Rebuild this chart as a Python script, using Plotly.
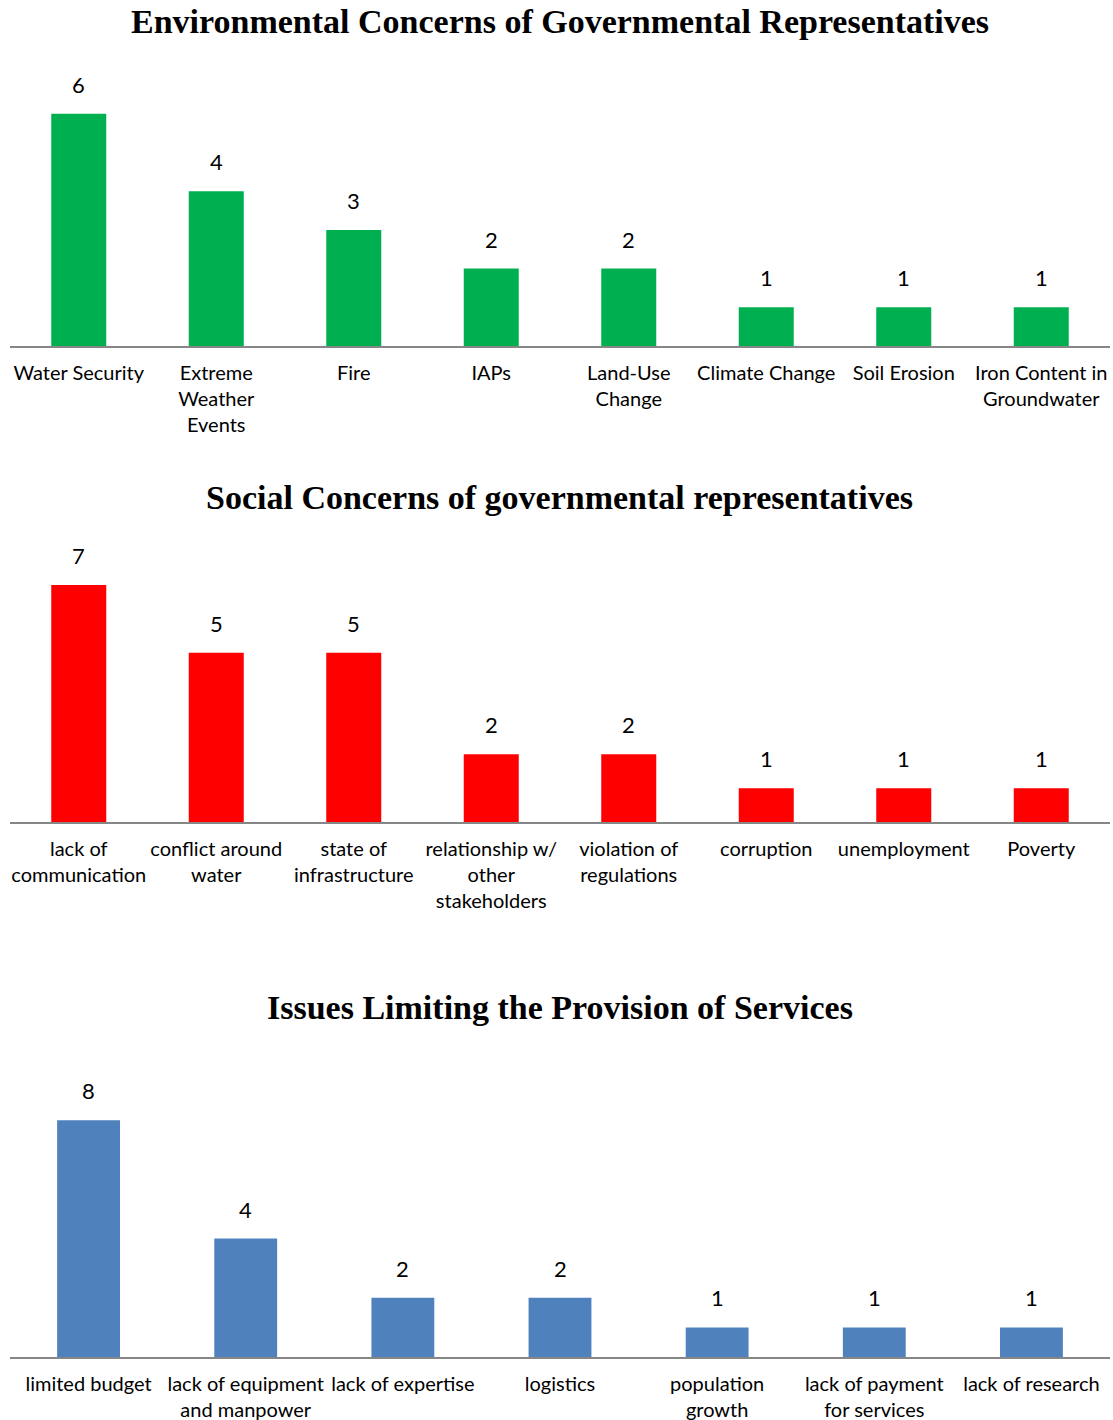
import plotly.graph_objects as go

# Environmental concerns
env_categories = ["Water Security", "Extreme<br>Weather<br>Events", "Fire", "IAPs",
                  "Land-Use<br>Change", "Climate Change", "Soil Erosion",
                  "Iron Content in<br>Groundwater"]
env_values = [6, 4, 3, 2, 2, 1, 1, 1]

# Social concerns
soc_categories = ["lack of<br>communication", "conflict around<br>water",
                  "state of<br>infrastructure", "relationship w/<br>other<br>stakeholders",
                  "violation of<br>regulations", "corruption", "unemployment", "Poverty"]
soc_values = [7, 5, 5, 2, 2, 1, 1, 1]

# Issues limiting services
svc_categories = ["limited budget", "lack of equipment<br>and manpower", "lack of expertise",
                  "logistics", "population<br>growth", "lack of payment<br>for services",
                  "lack of research"]
svc_values = [8, 4, 2, 2, 1, 1, 1]

titles = ["Environmental Concerns of Governmental Representatives",
          "Social Concerns of governmental representatives",
          "Issues Limiting the Provision of Services"]

W, H = 1113, 1420
LABEL_FONT = "Lato, Carlito, 'Open Sans', sans-serif"
TITLE_FONT = "'Liberation Serif', 'DejaVu Serif', serif"


def fy(px):
    return 1 - px / H


# (categories, values, colour, plot top px, baseline px, px per unit, title y px)
panels = [
    (env_categories, env_values, "#00b050", 60, 346, 38.7, 22),
    (soc_categories, soc_values, "#ff0000", 530, 822, 33.85, 498),
    (svc_categories, svc_values, "#4f81bd", 1060, 1357, 29.6, 1007),
]

fig = go.Figure()
annotations = []
layout = {}
for i, (cats, vals, color, top, base, ppu, ty) in enumerate(panels, start=1):
    xa = "x" if i == 1 else f"x{i}"
    ya = "y" if i == 1 else f"y{i}"
    fig.add_trace(go.Bar(x=cats, y=vals, marker_color=color, marker_line_width=0,
                         width=0.4, xaxis=xa, yaxis=ya, showlegend=False,
                         hoverinfo="skip"))
    ymax = (base - top) / ppu
    layout[f"xaxis{'' if i == 1 else i}"] = dict(
        domain=[10 / W, 1110 / W], anchor=ya, showline=True, linecolor="#868686",
        linewidth=1.5, showgrid=False, ticks="", tickfont=dict(family=LABEL_FONT, size=20,
                                                                color="#000000"),
        ticklabelstandoff=8, fixedrange=True, tickangle=0)
    layout[f"yaxis{'' if i == 1 else i}"] = dict(
        domain=[fy(base), fy(top)], anchor=xa, range=[0, ymax], visible=False,
        fixedrange=True)
    for c, v in zip(cats, vals):
        annotations.append(dict(x=c, y=v, xref=xa, yref=ya, text=str(v), showarrow=False,
                                yanchor="bottom", yshift=14,
                                font=dict(family=LABEL_FONT, size=22, color="#000000")))
    annotations.append(dict(x=0.503, y=fy(ty), xref="paper", yref="paper", text=f"<b>{titles[i-1]}</b>",
                            showarrow=False, xanchor="center", yanchor="middle",
                            font=dict(family=TITLE_FONT, size=34, color="#000000")))

fig.update_layout(width=W, height=H, margin=dict(l=0, r=0, t=0, b=0),
                  paper_bgcolor="white", plot_bgcolor="white", annotations=annotations,
                  bargap=0.6, **layout)
fig.write_html("out.html")
